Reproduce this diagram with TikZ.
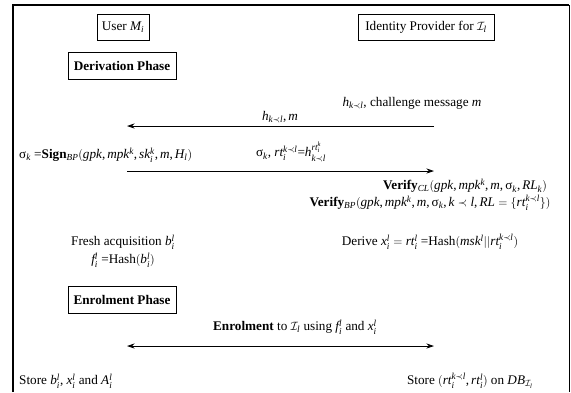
\documentclass[tikz,border=0pt]{standalone}
\usepackage{amsmath}
\usepackage{fontspec}
\setmainfont{Liberation Serif}
\DeclareSymbolFont{letters}{TU}{\rmdefault}{m}{it}
\SetSymbolFont{letters}{bold}{TU}{\rmdefault}{b}{it}
\AtBeginDocument{\mathcode`\,="602C \mathcode`\.="002E}
\usetikzlibrary{arrows.meta}
\newcommand{\sg}{\text{σ}}
\newcommand{\kl}{k\prec l}
\tikzset{
  lbl/.style={inner sep=0pt, font=\fontsize{13.2}{15}\selectfont},
  phasebox/.style={draw, line width=0.7pt, inner sep=0pt, minimum height=26pt, font=\fontsize{13.2}{15}\selectfont},
  msg/.style={line width=0.8pt, -{Stealth[length=7.5pt,width=5pt]}},
  dmsg/.style={line width=0.8pt, {Stealth[length=7.5pt,width=5pt]}-{Stealth[length=7.5pt,width=5pt]}},
}
\begin{document}
\begin{tikzpicture}[x=1pt,y=-1pt]
\useasboundingbox (0,0) rectangle (571,392);
% frame
\draw[line width=1.6pt] (13,392) -- (13,5) -- (569,5);
\draw[line width=0.8pt] (569,5) -- (569,392);
% headers
\node[phasebox, minimum width=52pt] (user) at (123,27) {User $M_i$};
\node[phasebox, minimum width=136pt] (idp) at (426,27) {Identity Provider for $\mathcal{I}_l$};
\node[phasebox, minimum width=108pt, minimum height=27pt] (der) at (122,65.5) {\textbf{Derivation Phase}};
% challenge
\node[lbl] (chal) at (412,103) {$h_{\kl}$, challenge message $m$};
\coordinate (a1s) at (434,126);
\coordinate (a1e) at (127,126);
\draw[msg] (a1s) -- (a1e);
\node[lbl] (a1l) at (280,117) {$h_{\kl},m$};
% sign
\node[lbl, anchor=west] (sign) at (19,155) {$\sg_k$ =\textbf{Sign}$_{BP}(gpk,mpk^k,sk_i^k,m,H_l)$};
\node[lbl] (a2l) at (291,152) {$\sg_k$, $rt_i^{\kl}$=$h_{\kl}^{rt_i^k}$};
\coordinate (a2s) at (127,171);
\coordinate (a2e) at (434,171);
\draw[msg] (a2s) -- (a2e);
% verify
\node[lbl] (vcl) at (465,186) {\textbf{Verify}$_{CL}(gpk,mpk^k,m,\sg_k,RL_k)$};
\node[lbl] (vbp) at (430,203) {\textbf{Verify}$_{BP}(gpk,mpk^k,m,\sg_k,k\prec l,RL=\{rt_i^{\kl}\})$};
% fresh
\node[lbl] (fresh) at (123,242) {Fresh acquisition $b_i^l$};
\node[lbl] (hash) at (123,260) {$f_i^l$ =Hash$(b_i^l)$};
\node[lbl] (derive) at (430,242) {Derive $x_i^l=rt_i^l$ =Hash$(msk^l||rt_i^{\kl})$};
% enrolment
\node[phasebox, minimum width=108pt, minimum height=27pt] (enr) at (122,299.5) {\textbf{Enrolment Phase}};
\node[lbl] (a3l) at (295,327) {\textbf{Enrolment} to $\mathcal{I}_l$ using $f_i^l$ and $x_i^l$};
\coordinate (a3s) at (127,346);
\coordinate (a3e) at (434,346);
\draw[dmsg] (a3s) -- (a3e);
\node[lbl, anchor=west] (storeu) at (19,381) {Store $b_i^l$, $x_i^l$ and $A_i^l$};
\node[lbl] (storei) at (470,381) {Store $(rt_i^{\kl},rt_i^l)$ on $DB_{\mathcal{I}_l}$};
\end{tikzpicture}
\end{document}
